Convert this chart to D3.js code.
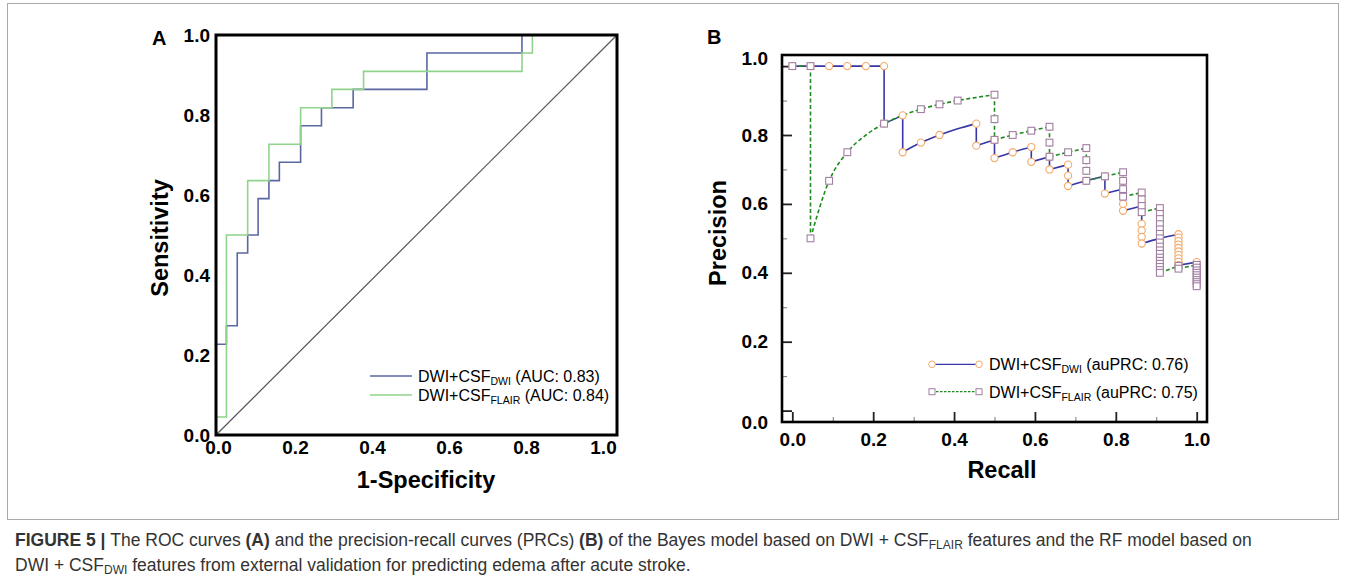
<!DOCTYPE html>
<html>
<head>
<meta charset="utf-8">
<script src="https://cdn.jsdelivr.net/npm/d3@7"></script>
<style>
    body { margin: 0; background: #fff; }
    svg { display: block; font-family: "Liberation Sans", Arial, Helvetica, sans-serif; }
</style>
</head>
<body>
<svg id="fig" width="1346" height="583"></svg>
<script>
// ---- Data ----
const axisTicks = [0, 0.2, 0.4, 0.6, 0.8, 1.0];
const minorTicks = [0.1, 0.3, 0.5, 0.7, 0.9];

// ROC (A): step corners, fpr / tpr.
const rocDwiFpr = [0, 0, 0.026, 0.053, 0.079, 0.105, 0.132, 0.158, 0.211, 0.263, 0.342, 0.526, 0.763, 1];
const rocDwiTpr = [0, 0.227, 0.273, 0.455, 0.5, 0.591, 0.636, 0.682, 0.773, 0.818, 0.864, 0.955, 1, 1];
const rocFlairFpr = [0, 0, 0.026, 0.079, 0.132, 0.211, 0.289, 0.368, 0.763, 0.789, 1];
const rocFlairTpr = [0, 0.045, 0.5, 0.636, 0.727, 0.818, 0.864, 0.909, 0.955, 1, 1];

// PRC (B): DWI + CSF_DWI (circles, solid).
const prDwiRecall = [0, 0.045, 0.091, 0.136, 0.182, 0.227, 0.227, 0.273, 0.273, 0.318, 0.364, 0.409,
    0.455, 0.455, 0.5, 0.5, 0.545, 0.591, 0.591, 0.636, 0.636, 0.682, 0.682, 0.682, 0.727, 0.773, 0.773,
    0.818, 0.818, 0.818, 0.864, 0.864, 0.864, 0.864, 0.864, 0.909,
    0.955, 0.955, 0.955, 0.955, 0.955, 0.955, 0.955, 0.955, 0.955, 0.955, 1];
const prDwiPrecision = [1, 1, 1, 1, 1, 1, 0.833, 0.857, 0.75, 0.778, 0.8, 0.818,
    0.833, 0.769, 0.786, 0.733, 0.75, 0.765, 0.722, 0.737, 0.7, 0.714, 0.682, 0.652, 0.667, 0.68, 0.63,
    0.643, 0.6, 0.58, 0.594, 0.542, 0.523, 0.504, 0.485, 0.5,
    0.512, 0.502, 0.492, 0.482, 0.472, 0.462, 0.452, 0.442, 0.432, 0.422, 0.431];
const prDwiMarker = [1, 1, 1, 1, 1, 1, 1, 1, 1, 1, 1, 0,
    1, 1, 1, 1, 1, 1, 1, 1, 1, 1, 1, 1, 1, 1, 1,
    1, 1, 1, 1, 1, 1, 1, 1, 1,
    1, 1, 1, 1, 1, 1, 1, 1, 1, 1, 1];

// PRC (B): DWI + CSF_FLAIR (squares, dashed).
const prFlairRecall = [0, 0.045, 0.045, 0.091, 0.136, 0.182, 0.227, 0.273, 0.318, 0.364, 0.409, 0.455,
    0.5, 0.5, 0.5, 0.545, 0.591, 0.636, 0.636, 0.636, 0.682, 0.727, 0.727, 0.727, 0.727, 0.773,
    0.818, 0.818, 0.818, 0.818, 0.864, 0.864, 0.864, 0.864,
    0.909, 0.909, 0.909, 0.909, 0.909, 0.909, 0.909, 0.909, 0.909, 0.909, 0.909, 0.909, 0.909, 0.909, 0.909, 0.909, 0.909,
    0.955, 0.955, 1, 1, 1, 1, 1, 1, 1, 1, 1, 1];
const prFlairPrecision = [1, 1, 0.5, 0.667, 0.75, 0.8, 0.833, 0.857, 0.875, 0.889, 0.9, 0.909,
    0.917, 0.846, 0.786, 0.8, 0.8125, 0.824, 0.778, 0.737, 0.75, 0.762, 0.727, 0.696, 0.667, 0.68,
    0.692, 0.667, 0.643, 0.621, 0.633, 0.613, 0.594, 0.576,
    0.588, 0.571, 0.556, 0.541, 0.526, 0.513, 0.5, 0.488, 0.476, 0.465, 0.455, 0.444, 0.435, 0.426, 0.417, 0.408, 0.4,
    0.42, 0.412, 0.423, 0.415, 0.407, 0.4, 0.393, 0.386, 0.379, 0.373, 0.367, 0.361];
const prFlairMarker = [1, 1, 1, 1, 1, 0, 1, 0, 1, 1, 1, 0,
    1, 1, 1, 1, 1, 1, 1, 1, 1, 1, 1, 1, 1, 1,
    1, 1, 1, 1, 1, 1, 1, 1,
    1, 1, 1, 1, 1, 1, 1, 1, 1, 1, 1, 1, 1, 1, 1, 1, 1,
    1, 1, 1, 1, 1, 1, 1, 1, 1, 1, 1, 1];

const rocLegend = [
    {sub: 'DWI', tail: ' (AUC: 0.83)'},
    {sub: 'FLAIR', tail: ' (AUC: 0.84)'}
];
const prLegend = [
    {sub: 'DWI', tail: ' (auPRC: 0.76)'},
    {sub: 'FLAIR', tail: ' (auPRC: 0.75)'}
];

// ---- Styles ----
const C = {
    rocDwi: '#5a67a0',
    rocFlair: '#8fd48a',
    diag: '#555',
    prDwi: '#3636a6',
    prFlair: '#208a20',
    circle: '#f3a868',
    square: '#a27ea2'
};

const svg = d3.select('#fig');
const fmt = d3.format('.1f');

// Outer frame.
svg.append('rect')
    .attr('x', 7.5).attr('y', 3.5)
    .attr('width', 1331).attr('height', 516)
    .attr('fill', 'none').attr('stroke', '#aaa').attr('stroke-width', 1);

// ================= Panel A =================
const xA = d3.scaleLinear().domain([0, 1]).range([216, 617]);
const yA = d3.scaleLinear().domain([0, 1]).range([435, 35]);
// tick labels in the figure sit a little inside the frame on the right
const xALab = d3.scaleLinear().domain([0, 1]).range([218, 603]);

const gA = svg.append('g');

gA.append('line')
    .attr('x1', xA(0)).attr('y1', yA(0))
    .attr('x2', xA(1)).attr('y2', yA(1))
    .attr('stroke', C.diag).attr('stroke-width', 1.2);

const rocLine = d3.line()
    .x(d => xA(d[0]))
    .y(d => yA(d[1]))
    .curve(d3.curveStepAfter);

gA.append('path')
    .datum(d3.zip(rocDwiFpr, rocDwiTpr))
    .attr('d', rocLine)
    .attr('fill', 'none').attr('stroke', C.rocDwi).attr('stroke-width', 1.6);
gA.append('path')
    .datum(d3.zip(rocFlairFpr, rocFlairTpr))
    .attr('d', rocLine)
    .attr('fill', 'none').attr('stroke', C.rocFlair).attr('stroke-width', 1.6);

gA.append('rect')
    .attr('x', xA(0)).attr('y', yA(1))
    .attr('width', xA(1) - xA(0)).attr('height', yA(0) - yA(1))
    .attr('fill', 'none').attr('stroke', '#000').attr('stroke-width', 3);

const axA_x = gA.append('g')
    .attr('transform', `translate(0,${yA(0)})`)
    .call(d3.axisBottom(xALab).tickValues(axisTicks).tickFormat(fmt).tickSize(0).tickPadding(6));
const axA_y = gA.append('g')
    .attr('transform', `translate(${xA(0)},0)`)
    .call(d3.axisLeft(yA).tickValues(axisTicks).tickFormat(fmt).tickSize(0).tickPadding(6));
[axA_x, axA_y].forEach(g => {
    g.select('.domain').remove();
    g.selectAll('text')
        .attr('fill', '#000')
        .style('font-size', '19px')
        .style('font-weight', 'bold')
        .style('font-family', '"Liberation Sans", Arial, sans-serif');
});

gA.append('text')
    .attr('x', 152).attr('y', 45)
    .style('font-size', '20px').style('font-weight', 'bold')
    .text('A');

gA.append('text')
    .attr('x', 426).attr('y', 488)
    .attr('text-anchor', 'middle')
    .style('font-size', '23.5px').style('font-weight', 'bold')
    .text('1-Specificity');

gA.append('text')
    .attr('transform', 'translate(168,238) rotate(-90)')
    .attr('text-anchor', 'middle')
    .style('font-size', '23.5px').style('font-weight', 'bold')
    .text('Sensitivity');

// Legend A
const legA = gA.append('g');
[C.rocDwi, C.rocFlair].forEach((col, i) => {
    const y = 376 + i * 19;
    legA.append('line')
        .attr('x1', 370).attr('x2', 412)
        .attr('y1', y).attr('y2', y)
        .attr('stroke', col).attr('stroke-width', 1.6);
    const t = legA.append('text')
        .attr('x', 418).attr('y', y + 6)
        .style('font-size', '16px');
    t.append('tspan').text('DWI+CSF');
    t.append('tspan').attr('dy', 3).style('font-size', '10.5px').text(rocLegend[i].sub);
    t.append('tspan').attr('dy', -3).text(rocLegend[i].tail);
});

// ================= Panel B =================
const xB = d3.scaleLinear().domain([0, 1]).range([792.3, 1196.7]);
const yB = d3.scaleLinear().domain([0, 1]).range([410.6, 66.1]);
const box = {x: 782, y: 55, w: 425, h: 367};

const gB = svg.append('g');

gB.append('text')
    .attr('x', 707).attr('y', 44)
    .style('font-size', '20px').style('font-weight', 'bold')
    .text('B');

// Ticks (inward)
const styleTicks = (g, w, col) => {
    g.select('.domain').remove();
    g.selectAll('line').attr('stroke', col).attr('stroke-width', w);
};
const bx = box.y + box.h;
gB.append('g')
    .attr('transform', `translate(0,${bx})`)
    .call(d3.axisBottom(xB).tickValues(minorTicks).tickFormat('').tickSize(-5))
    .call(g => styleTicks(g, 1, '#777'));
gB.append('g')
    .attr('transform', `translate(${box.x},0)`)
    .call(d3.axisLeft(yB).tickValues(minorTicks).tickFormat('').tickSize(-5))
    .call(g => styleTicks(g, 1, '#777'));

const axB_x = gB.append('g')
    .attr('transform', `translate(0,${bx})`)
    .call(d3.axisBottom(xB).tickValues(axisTicks).tickFormat(fmt).tickSize(-10).tickPadding(11));
const axB_y = gB.append('g')
    .attr('transform', `translate(${box.x},0)`)
    .call(d3.axisLeft(yB).tickValues(axisTicks).tickFormat(fmt).tickSize(-10).tickPadding(14));
[axB_x, axB_y].forEach(g => {
    styleTicks(g, 1.8, '#222');
    g.selectAll('text')
        .attr('fill', '#000')
        .style('font-size', '19px')
        .style('font-weight', 'bold')
        .style('font-family', '"Liberation Sans", Arial, sans-serif');
});
// end labels of the y axis are pushed out a bit in the figure
axB_y.selectAll('.tick').filter(d => d === 0).select('text').attr('dy', '0.95em');
axB_y.selectAll('.tick').filter(d => d === 1).select('text').attr('dy', '-0.08em');

gB.append('text')
    .attr('x', 1002).attr('y', 478)
    .attr('text-anchor', 'middle')
    .style('font-size', '23.5px').style('font-weight', 'bold')
    .text('Recall');

gB.append('text')
    .attr('transform', 'translate(726,233) rotate(-90)')
    .attr('text-anchor', 'middle')
    .style('font-size', '23.5px').style('font-weight', 'bold')
    .text('Precision');

// PR lines: smooth between markers, straight drops where recall stays the same.
const toPts = (r, p, m) => r.map((v, i) => ({r: v, p: p[i], m: m[i]}));
const splitRuns = pts => {
    const out = [];
    let cur = [pts[0]];
    for (let i = 1; i < pts.length; i++) {
        const q = pts[i - 1], p = pts[i];
        if (p.r === q.r) {
            if (cur.length > 1) out.push(cur);
            out.push([q, p]);
            cur = [p];
        } else {
            cur.push(p);
        }
    }
    if (cur.length > 1) out.push(cur);
    return out;
};
const prLine = d3.line()
    .x(d => xB(d.r))
    .y(d => yB(d.p))
    .curve(d3.curveMonotoneX);

const dwiPts = toPts(prDwiRecall, prDwiPrecision, prDwiMarker);
const flairPts = toPts(prFlairRecall, prFlairPrecision, prFlairMarker);

gB.append('g').selectAll('path')
    .data(splitRuns(dwiPts))
    .join('path')
    .attr('d', prLine)
    .attr('fill', 'none').attr('stroke', C.prDwi).attr('stroke-width', 1.6);
gB.append('g').selectAll('path')
    .data(splitRuns(flairPts))
    .join('path')
    .attr('d', prLine)
    .attr('fill', 'none').attr('stroke', C.prFlair).attr('stroke-width', 1.6)
    .attr('stroke-dasharray', '4,2.5');

gB.append('g').selectAll('circle')
    .data(dwiPts.filter(d => d.m))
    .join('circle')
    .attr('cx', d => xB(d.r)).attr('cy', d => yB(d.p))
    .attr('r', 3.6)
    .attr('fill', '#fff').attr('stroke', C.circle).attr('stroke-width', 1.1);
gB.append('g').selectAll('rect')
    .data(flairPts.filter(d => d.m))
    .join('rect')
    .attr('x', d => xB(d.r) - 3.4).attr('y', d => yB(d.p) - 3.4)
    .attr('width', 6.8).attr('height', 6.8)
    .attr('fill', '#fff').attr('stroke', C.square).attr('stroke-width', 1.1);

gB.append('rect')
    .attr('x', box.x).attr('y', box.y)
    .attr('width', box.w).attr('height', box.h)
    .attr('fill', 'none').attr('stroke', '#000').attr('stroke-width', 2.6);

// Legend B
const legB = gB.append('g');
[0, 1].forEach(i => {
    const y = 364.3 + i * 27.4;
    const ln = legB.append('line')
        .attr('x1', 932).attr('x2', 979)
        .attr('y1', y).attr('y2', y)
        .attr('stroke', i ? C.prFlair : C.prDwi).attr('stroke-width', 1.2);
    if (i) ln.attr('stroke-dasharray', '2.5,1.5');
    [932, 979].forEach(x => {
        if (i) {
            legB.append('rect')
                .attr('x', x - 3).attr('y', y - 3).attr('width', 6).attr('height', 6)
                .attr('fill', '#fff').attr('stroke', C.square).attr('stroke-width', 1);
        } else {
            legB.append('circle')
                .attr('cx', x).attr('cy', y).attr('r', 3.3)
                .attr('fill', '#fff').attr('stroke', C.circle).attr('stroke-width', 1);
        }
    });
    const t = legB.append('text')
        .attr('x', 989).attr('y', y + 6)
        .style('font-size', '16px');
    t.append('tspan').text('DWI+CSF');
    t.append('tspan').attr('dy', 3).style('font-size', '10.5px').text(prLegend[i].sub);
    t.append('tspan').attr('dy', -3).text(prLegend[i].tail);
});

// ================= Caption =================
const cap = svg.append('g').attr('fill', '#333');
const line1 = cap.append('text').attr('x', 15).attr('y', 546).style('font-size', '16px');
line1.append('tspan').style('font-weight', 'bold').text('FIGURE 5 | ');
line1.append('tspan').text('The ROC curves ');
line1.append('tspan').style('font-weight', 'bold').text('(A)');
line1.append('tspan').text(' and the precision-recall curves (PRCs) ');
line1.append('tspan').style('font-weight', 'bold').text('(B)');
line1.append('tspan').text(' of the Bayes model based on DWI + CSF');
line1.append('tspan').attr('dy', 3).style('font-size', '11px').text('FLAIR');
line1.append('tspan').attr('dy', -3).text(' features and the RF model based on');

const line2 = cap.append('text').attr('x', 15).attr('y', 571).style('font-size', '16px');
line2.append('tspan').text('DWI + CSF');
line2.append('tspan').attr('dy', 3).style('font-size', '11px').text('DWI');
line2.append('tspan').attr('dy', -3).text(' features from external validation for predicting edema after acute stroke.');

// scale caption so the first (justified) line spans the text column
const capW = 1238;
const k = capW / line1.node().getComputedTextLength();
[line1, line2].forEach(t => {
    t.style('font-size', (16 * k) + 'px');
    t.selectAll('tspan').each(function () {
        const fs = this.style.fontSize;
        if (fs) d3.select(this).style('font-size', (parseFloat(fs) * k) + 'px');
    });
});
</script>
</body>
</html>
